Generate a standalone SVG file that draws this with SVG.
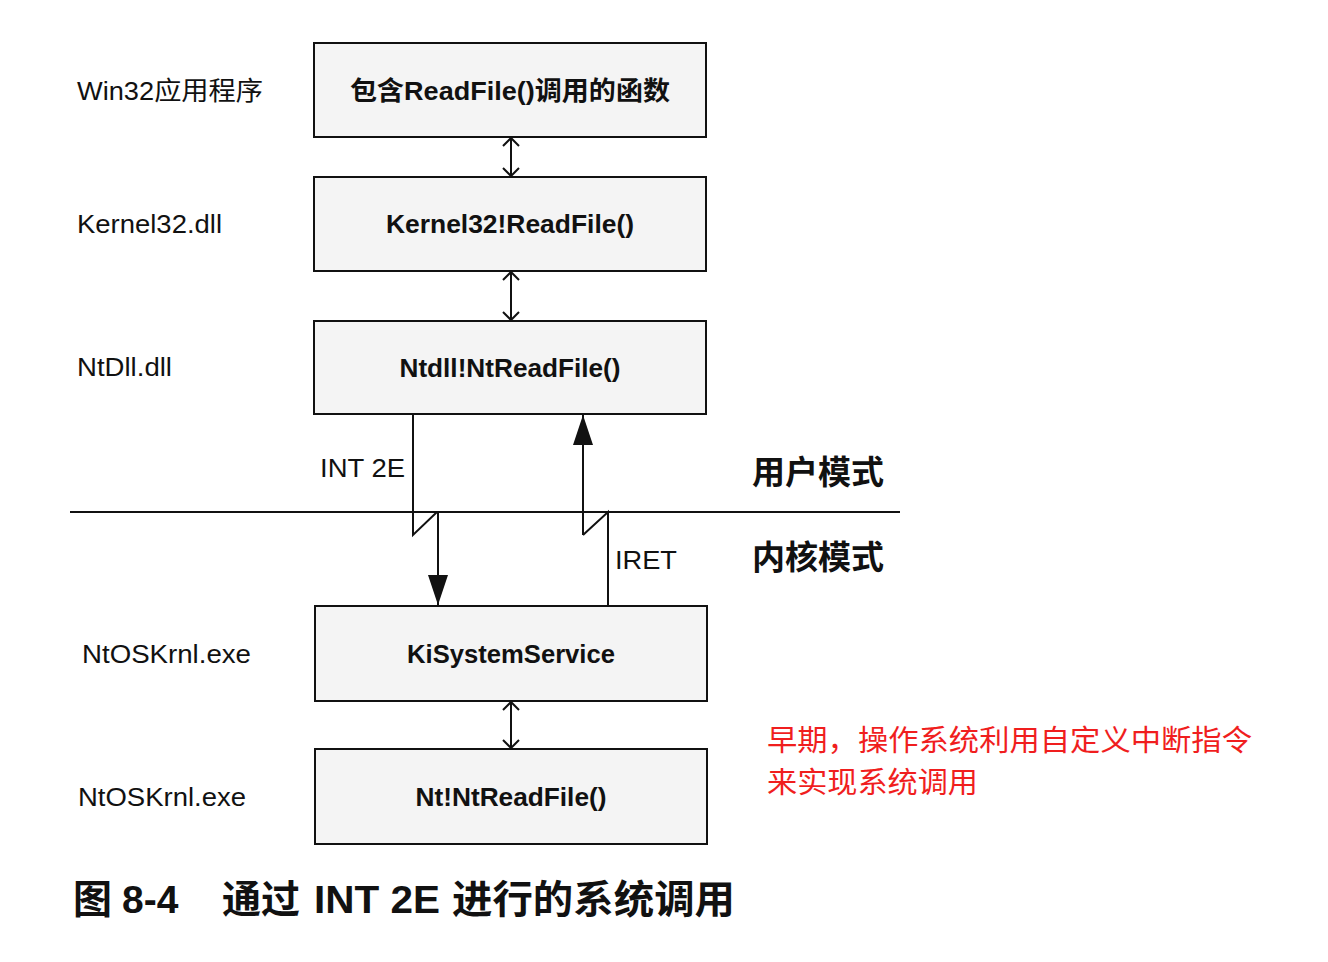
<svg xmlns="http://www.w3.org/2000/svg" width="1328" height="962" viewBox="0 0 1328 962">
<style>
.box{fill:#f4f4f4;stroke:#111;stroke-width:2}
.lbl{font-family:"Liberation Sans","Noto Sans CJK SC",sans-serif;font-size:26px;fill:#111}
.btx{font-family:"Liberation Sans","Noto Sans CJK SC",sans-serif;font-size:26px;font-weight:bold;fill:#111;text-anchor:middle}
.mode{font-family:"Noto Sans CJK SC",sans-serif;font-size:33px;font-weight:bold;fill:#111}
.note{font-family:"Noto Sans CJK SC",sans-serif;font-size:29px;fill:#f01e1e}
.cap{font-family:"Liberation Sans","Noto Sans CJK SC",sans-serif;font-size:39px;font-weight:bold;fill:#111}
.ln{stroke:#111;stroke-width:2;fill:none}
</style>
<defs>
<marker id="open" viewBox="0 0 20 20" refX="10" refY="10" markerWidth="20" markerHeight="20" markerUnits="userSpaceOnUse" orient="auto-start-reverse">
<path d="M2,2 L10,10 L2,18" fill="none" stroke="#111" stroke-width="2"/>
</marker>
<marker id="solid" viewBox="0 0 30 22" refX="30" refY="11" markerWidth="30" markerHeight="22" markerUnits="userSpaceOnUse" orient="auto">
<path d="M0,1 L30,11 L0,21 Z" fill="#111"/>
</marker>
</defs>
<rect width="1328" height="962" fill="#fff"/>

<g id="connectors">
<line class="ln" x1="70" y1="512" x2="900" y2="512"/>
<line class="ln" x1="511" y1="138" x2="511" y2="176" marker-start="url(#open)" marker-end="url(#open)"/>
<line class="ln" x1="511" y1="272" x2="511" y2="320" marker-start="url(#open)" marker-end="url(#open)"/>
<line class="ln" x1="511" y1="702" x2="511" y2="748" marker-start="url(#open)" marker-end="url(#open)"/>
<path class="ln" d="M413,415 L413,535 L437,512"/>
<line class="ln" x1="438" y1="512" x2="438" y2="605" marker-end="url(#solid)"/>
<line class="ln" x1="583" y1="535" x2="583" y2="415" marker-end="url(#solid)"/>
<path class="ln" d="M583,535 L608,512 L608,606"/>
</g>

<g id="n1"><rect class="box" x="314" y="43" width="392" height="94"/><text class="btx" x="510" y="100" textLength="320" lengthAdjust="spacingAndGlyphs">包含ReadFile()调用的函数</text></g>
<g id="n2"><rect class="box" x="314" y="177" width="392" height="94"/><text class="btx" x="510" y="233" textLength="248" lengthAdjust="spacingAndGlyphs">Kernel32!ReadFile()</text></g>
<g id="n3"><rect class="box" x="314" y="321" width="392" height="93"/><text class="btx" x="510" y="377" textLength="221" lengthAdjust="spacingAndGlyphs">Ntdll!NtReadFile()</text></g>
<g id="n4"><rect class="box" x="315" y="606" width="392" height="95"/><text class="btx" x="511" y="663" textLength="208" lengthAdjust="spacingAndGlyphs">KiSystemService</text></g>
<g id="n5"><rect class="box" x="315" y="749" width="392" height="95"/><text class="btx" x="511" y="806" textLength="191" lengthAdjust="spacingAndGlyphs">Nt!NtReadFile()</text></g>

<g id="labels">
<text class="lbl" x="77" y="100" textLength="186" lengthAdjust="spacingAndGlyphs">Win32应用程序</text>
<text class="lbl" x="77" y="233" textLength="145" lengthAdjust="spacingAndGlyphs">Kernel32.dll</text>
<text class="lbl" x="77" y="376" textLength="95" lengthAdjust="spacingAndGlyphs">NtDll.dll</text>
<text class="lbl" x="82" y="663" textLength="169" lengthAdjust="spacingAndGlyphs">NtOSKrnl.exe</text>
<text class="lbl" x="78" y="806" textLength="168" lengthAdjust="spacingAndGlyphs">NtOSKrnl.exe</text>
<text class="lbl" x="320" y="477" textLength="85" lengthAdjust="spacingAndGlyphs">INT 2E</text>
<text class="lbl" x="615" y="569" textLength="62" lengthAdjust="spacingAndGlyphs">IRET</text>
<text class="mode" x="752" y="484">用户模式</text>
<text class="mode" x="752" y="569">内核模式</text>
<text class="note" x="767" y="751" textLength="485" lengthAdjust="spacingAndGlyphs">早期，操作系统利用自定义中断指令</text>
<text class="note" x="767" y="793" textLength="211" lengthAdjust="spacingAndGlyphs">来实现系统调用</text>
</g>
<g id="caption">
<text class="cap" x="73" y="913">图</text>
<text class="cap" x="122" y="913">8-4</text>
<text class="cap" x="222" y="913">通过</text>
<text class="cap" x="314" y="913" textLength="126" lengthAdjust="spacingAndGlyphs">INT 2E</text>
<text class="cap" x="452" y="913" textLength="283" lengthAdjust="spacingAndGlyphs">进行的系统调用</text>
</g>
</svg>
